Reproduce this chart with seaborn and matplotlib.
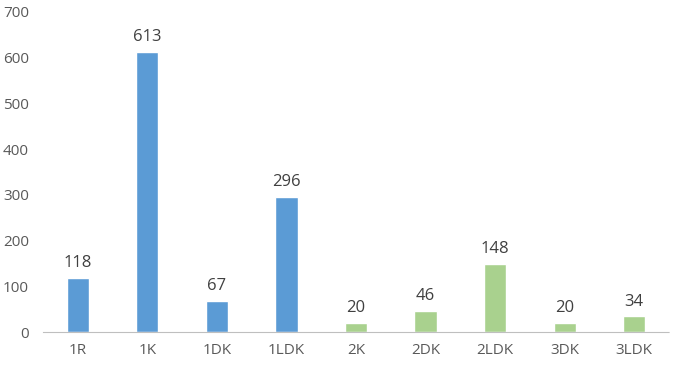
import pandas as pd
import matplotlib.pyplot as plt
import seaborn as sns

layouts = ['1R', '1K', '1DK', '1LDK', '2K', '2DK', '2LDK', '3DK', '3LDK']
counts = [118, 613, 67, 296, 20, 46, 148, 20, 34]
groups = ['single', 'single', 'single', 'single',
          'family', 'family', 'family', 'family', 'family']

df = pd.DataFrame({'layout': layouts, 'count': counts, 'group': groups})

sns.set_style('white')
plt.rcParams['font.family'] = ['Open Sans', 'DejaVu Sans']

fig = plt.figure(figsize=(6.78, 3.70), dpi=100)
ax = fig.add_axes([0.0634, 0.1027, 0.9233, 0.8649])
sns.barplot(df, x='layout', y='count', hue='group', dodge=False,
            palette={'single': '#5B9BD5', 'family': '#A9D18E'},
            saturation=1, width=0.32, legend=False, ax=ax)

for c in ax.containers:
    ax.bar_label(c, padding=5, fontsize=12, color='#404040')

ax.set_ylim(0, 700)
ax.set_yticks(range(0, 701, 100))
ax.set_xlim(-0.5, len(layouts) - 0.5)
ax.set_xlabel('')
ax.set_ylabel('')
ax.tick_params('both', labelsize=11, colors='#595959', length=0)
ax.tick_params('x', pad=8)
ax.tick_params('y', pad=10)
for s in ['top', 'right', 'left']:
    ax.spines[s].set_visible(False)
ax.spines['bottom'].set_color('#BFBFBF')
ax.spines['bottom'].set_linewidth(0.8)
ax.spines['bottom'].set_linestyle((0, (1, 1)))

fig.savefig('out.png', dpi=100)
